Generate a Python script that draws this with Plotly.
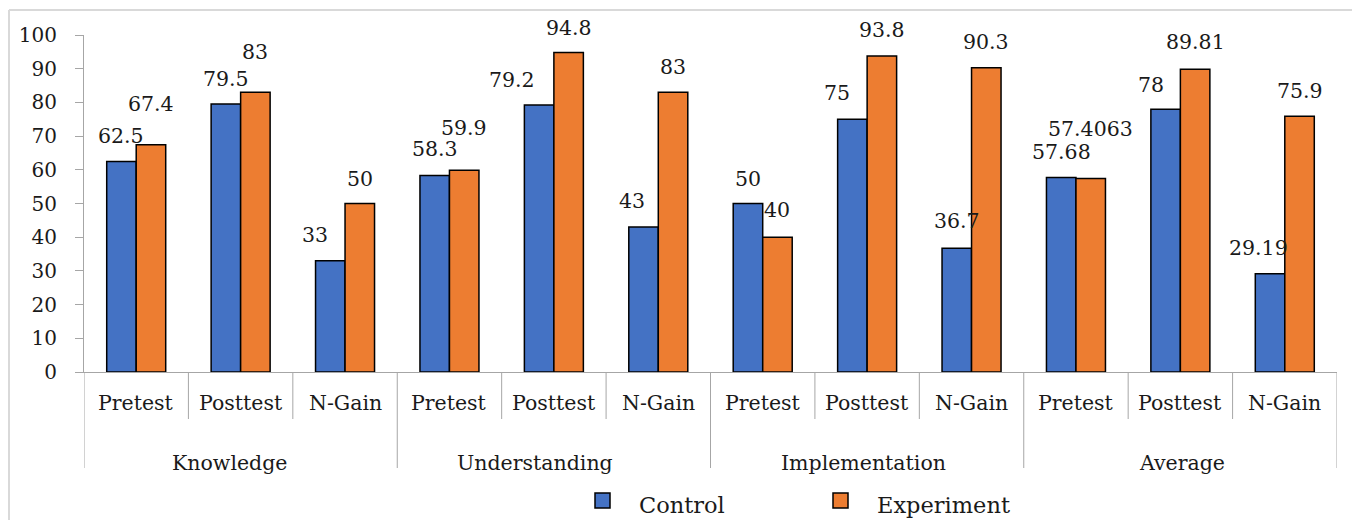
import plotly.graph_objects as go

# ---- data -------------------------------------------------------------
groups = ["Knowledge", "Understanding", "Implementation", "Average"]
stages = ["Pretest", "Posttest", "N-Gain"]
control = [62.5, 79.5, 33, 58.3, 79.2, 43, 50, 75, 36.7, 57.68, 78, 29.19]
experiment = [67.4, 83, 50, 59.9, 94.8, 83, 40, 93.8, 90.3, 57.4063, 89.81, 75.9]
y_ticks = [0, 10, 20, 30, 40, 50, 60, 70, 80, 90, 100]

# ---- label nudges (pixels): (dx, dy above bar top) ---------------------
control_nudge = [(0, 25), (0, 25), (-15, 26), (0, 27), (-27, 25), (-12, 26),
                 (0, 25), (-15, 26), (0, 27), (0, 26), (-15, 24), (-12, 26)]
experiment_nudge = [(0, 41), (0, 40), (0, 25), (0, 42), (0, 25), (0, 25),
                    (0, 27), (0, 26), (0, 26), (0, 50), (0, 27), (0, 25)]
group_label_dx = [-11, -19, -4, 2]

BLUE = "#4472C4"
ORANGE = "#ED7D31"
GRID = "#A6A6A6"
TEXT = "#1A1A1A"
FONT = "DejaVu Serif"

W, H = 1352, 520
L, R, T, B = 84, 15, 35, 148
PW, PH = W - L - R, H - T - B


def px_x(p):
    return (p - L) / PW


def px_y(p):
    return (H - B - p) / PH


n = len(control)
xs = list(range(n))
bargap = 0.435
half = (1 - bargap) / 4

fig = go.Figure()
fig.add_trace(go.Bar(x=xs, y=control, name="Control", marker_color=BLUE,
                     marker_line=dict(color="black", width=1.5)))
fig.add_trace(go.Bar(x=xs, y=experiment, name="Experiment", marker_color=ORANGE,
                     marker_line=dict(color="black", width=1.5)))

annotations = []
# value labels
for i in range(n):
    for vals, nudge, off in ((control, control_nudge, -half),
                             (experiment, experiment_nudge, half)):
        v = vals[i]
        dx, dy = nudge[i]
        annotations.append(dict(x=i + off, y=v, xref="x", yref="y",
                                text=f"{v:g}",
                                showarrow=False, yanchor="middle",
                                xshift=dx, yshift=dy,
                                font=dict(family=FONT, size=20.5, color=TEXT)))

shapes = []
# category labels and dividers
for i in range(n):
    annotations.append(dict(x=i, y=px_y(403), xref="x", yref="paper",
                            text=stages[i % 3], showarrow=False,
                            yanchor="middle",
                            font=dict(family=FONT, size=20.5, color=TEXT)))
for g, name in enumerate(groups):
    annotations.append(dict(x=g * 3 + 1, y=px_y(463), xref="x", yref="paper",
                            text=name, showarrow=False, yanchor="middle",
                            xshift=group_label_dx[g],
                            font=dict(family=FONT, size=20.5, color=TEXT)))
for k in range(n + 1):
    low = px_y(468) if k % 3 == 0 else px_y(419)
    shapes.append(dict(type="line", xref="x", yref="paper",
                       x0=k - 0.5, x1=k - 0.5, y0=0, y1=low,
                       line=dict(color=GRID, width=1)))

# legend
for (x0, label, color) in ((595, "Control", BLUE), (833, "Experiment", ORANGE)):
    shapes.append(dict(type="rect", xref="paper", yref="paper",
                       x0=px_x(x0), x1=px_x(x0 + 15), y0=px_y(493), y1=px_y(508),
                       fillcolor=color, line=dict(color="black", width=1.5)))
    annotations.append(dict(x=px_x(x0 + 42), y=px_y(505), xref="paper",
                            yref="paper", text=label, showarrow=False,
                            xanchor="left", yanchor="middle",
                            font=dict(family=FONT, size=22.5, color=TEXT)))

# chart frame
shapes.append(dict(type="line", xref="paper", yref="paper",
                   x0=px_x(9), x1=px_x(W), y0=px_y(10), y1=px_y(10),
                   line=dict(color="#D9D9D9", width=2)))
shapes.append(dict(type="line", xref="paper", yref="paper",
                   x0=px_x(9), x1=px_x(9), y0=px_y(10), y1=px_y(H),
                   line=dict(color="#D9D9D9", width=2)))

fig.update_layout(
    width=W, height=H,
    margin=dict(l=L, r=R, t=T, b=B),
    paper_bgcolor="white", plot_bgcolor="white",
    barmode="group", bargap=bargap, bargroupgap=0,
    showlegend=False,
    annotations=annotations, shapes=shapes,
    font=dict(family=FONT, size=20, color=TEXT),
)
fig.update_xaxes(range=[-0.5, n - 0.5], showticklabels=False, showgrid=False,
                 showline=True, linecolor=GRID, linewidth=1, zeroline=False,
                 ticks="")
fig.update_yaxes(range=[0, 100], tickvals=y_ticks, showgrid=False,
                 showline=True, linecolor=GRID, linewidth=1, zeroline=False,
                 ticks="outside", ticklen=8, tickcolor=GRID,
                 ticklabelstandoff=14,
                 tickfont=dict(family=FONT, size=20, color=TEXT))

fig.write_html("out.html")
